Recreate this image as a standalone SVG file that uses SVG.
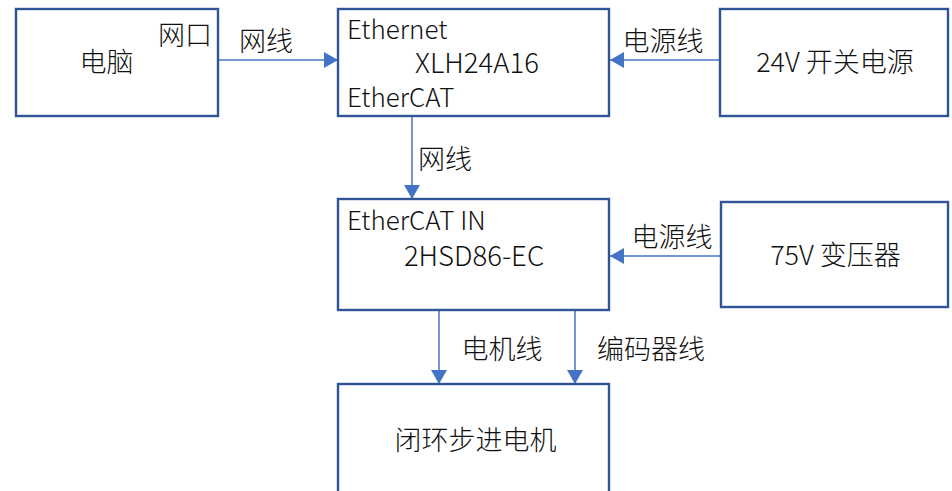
<svg xmlns="http://www.w3.org/2000/svg" width="952" height="491" viewBox="0 0 952 491">
<defs>
<style>
.box{fill:#fff;stroke:#2F5597;stroke-width:2.4}
.con{fill:none;stroke:#4472C4;stroke-width:1.5}
text{font-family:"Noto Sans CJK SC","Noto Sans",sans-serif;font-size:27px;font-weight:300;fill:#111;text-anchor:middle}
.l{font-size:26px;text-anchor:start}
.c{font-size:27.5px}
</style>
<marker id="ah" viewBox="0 0 14 16" refX="14" refY="8" markerWidth="14" markerHeight="16" markerUnits="userSpaceOnUse" orient="auto">
<path d="M0,0 L14,8 L0,16 Z" fill="#4472C4"/>
</marker>
</defs>
<rect width="952" height="491" fill="#fff"/>
<g id="connectors">
<line class="con" x1="218" y1="60" x2="338" y2="60" marker-end="url(#ah)"/>
<line class="con" x1="720" y1="60" x2="610" y2="60" marker-end="url(#ah)"/>
<line class="con" x1="412" y1="116" x2="412" y2="199" marker-end="url(#ah)"/>
<line class="con" x1="721" y1="256" x2="610" y2="256" marker-end="url(#ah)"/>
<line class="con" x1="439" y1="311" x2="439" y2="384" marker-end="url(#ah)"/>
<line class="con" x1="575" y1="311" x2="575" y2="384" marker-end="url(#ah)"/>
<text x="266" y="51">网线</text>
<text x="663" y="51">电源线</text>
<text x="445" y="169">网线</text>
<text x="672" y="247">电源线</text>
<text x="502" y="359">电机线</text>
<text x="651" y="359">编码器线</text>
</g>
<g id="pc">
<rect class="box" x="16" y="9" width="202" height="107"/>
<text x="106.5" y="72">电脑</text>
<text x="185" y="45">网口</text>
</g>
<g id="xlh">
<rect class="box" x="338" y="9" width="271" height="107"/>
<text class="l" x="347" y="39">Ethernet</text>
<text class="c" x="477" y="73">XLH24A16</text>
<text class="l" x="347" y="107">EtherCAT</text>
</g>
<g id="psu24">
<rect class="box" x="720" y="9" width="228" height="107"/>
<text x="835" y="72">24V 开关电源</text>
</g>
<g id="drv">
<rect class="box" x="338" y="199" width="271" height="111"/>
<text class="l" x="347" y="230">EtherCAT IN</text>
<text class="c" x="474" y="266">2HSD86-EC</text>
</g>
<g id="tr75">
<rect class="box" x="721" y="202" width="227" height="105"/>
<text x="835.5" y="265">75V 变压器</text>
</g>
<g id="motor">
<rect class="box" x="338" y="384" width="271" height="120"/>
<text x="475.5" y="450">闭环步进电机</text>
</g>
</svg>
